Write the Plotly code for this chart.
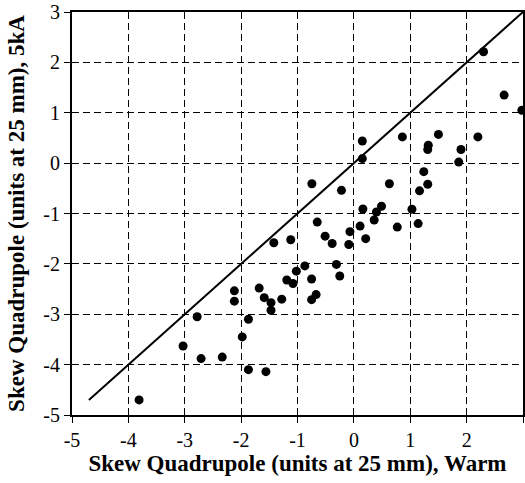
import plotly.graph_objects as go

warm = [2.30, 2.665, 2.98, 0.15, 0.15, 0.86, 1.50, 1.32, 1.31, 2.20, 1.90, 1.86, 1.24, 1.31, 1.165,
        0.63, -0.22, -0.745, 0.16, 0.49, 0.40, 1.03, 0.36, 1.14, 0.77, 0.11, 0.21, -0.07, -0.09,
        -0.65, -0.51, -0.385, -1.12, -0.31, -0.25, -0.87, -1.02, -1.19, -1.08, -0.75, -0.67, -0.75,
        -1.28, -3.81, -3.03, -2.78, -2.71, -2.335, -1.98, -1.87, -1.87, -1.56, -2.12, -2.12, -1.68,
        -1.59, -1.47, -1.47, -1.42]
cold = [2.21, 1.35, 1.05, 0.44, 0.09, 0.52, 0.57, 0.355, 0.27, 0.52, 0.27, 0.02, -0.17, -0.42, -0.55,
        -0.41, -0.54, -0.41, -0.91, -0.855, -0.97, -0.915, -1.13, -1.20, -1.27, -1.25, -1.50, -1.36, -1.615,
        -1.17, -1.45, -1.595, -1.52, -2.01, -2.24, -2.04, -2.145, -2.32, -2.39, -2.30, -2.61, -2.71,
        -2.70, -4.70, -3.63, -3.05, -3.88, -3.85, -3.45, -3.10, -4.10, -4.14, -2.535, -2.74, -2.48,
        -2.67, -2.77, -2.92, -1.58]
line_x = [-4.7, 3]
line_y = [-4.7, 3]
ticks = [-5, -4, -3, -2, -1, 0, 1, 2, 3]
tick_labels = ["-5", "-4", "-3", "-2", "-1", "0", "1", "2", "3"]

fig = go.Figure()
fig.add_trace(go.Scatter(x=line_x, y=line_y, mode="lines",
                         line=dict(color="black", width=2), showlegend=False, cliponaxis=False))
fig.add_trace(go.Scatter(x=warm, y=cold, mode="markers",
                         marker=dict(color="black", size=9), showlegend=False, cliponaxis=False))

axis_common = dict(
    showline=True, linecolor="black", linewidth=2, mirror=True,
    ticks="outside", ticklen=6, tickcolor="black", tickwidth=1,
    showgrid=True, gridcolor="black", gridwidth=1, griddash="7px,4px",
    zeroline=False, tickvals=ticks, ticktext=tick_labels, automargin=False,
    tickfont=dict(family="Liberation Serif", size=20, color="black"),
)
fig.update_xaxes(range=[-5, 3], autorange=False, **axis_common,
                 title=dict(text="<b>Skew Quadrupole (units at 25 mm), Warm</b>",
                            font=dict(family="Liberation Serif", size=23, color="black"),
                            standoff=3))
fig.update_yaxes(range=[-5, 3], autorange=False, **axis_common,
                 title=dict(text="<b>Skew Quadrupole (units at 25 mm), 5kA</b>",
                            font=dict(family="Liberation Serif", size=23, color="black"),
                            standoff=12))
fig.update_layout(width=525, height=483, margin=dict(l=72, r=2, t=12, b=68),
                  plot_bgcolor="white", paper_bgcolor="white")
fig.write_html("out.html", config={"displayModeBar": False},
               post_script="document.body.style.margin='0';document.body.style.overflow='hidden';")
